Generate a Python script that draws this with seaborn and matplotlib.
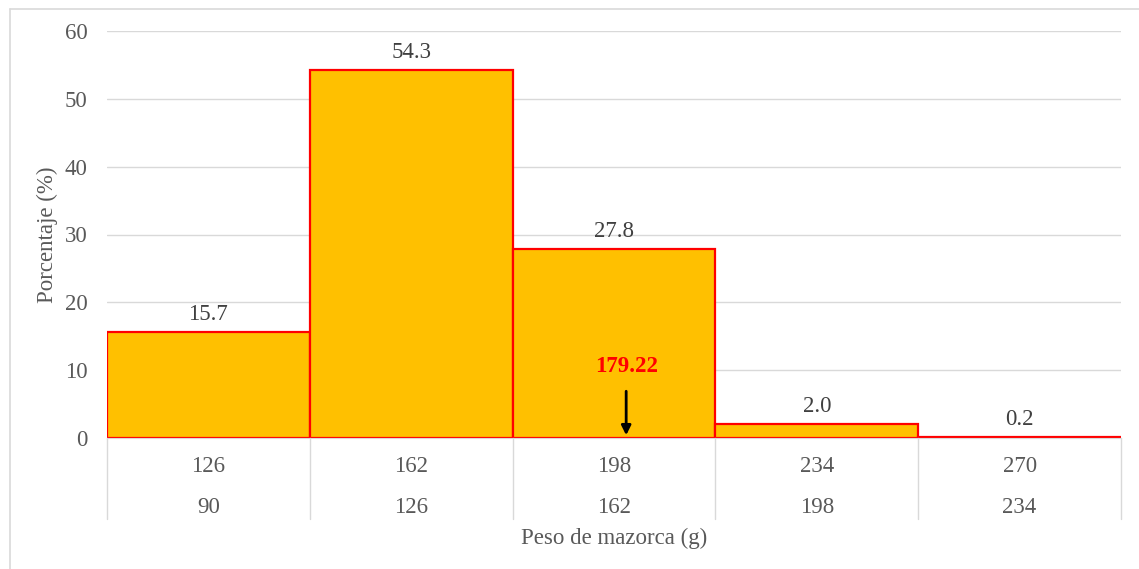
import matplotlib
matplotlib.use("Agg")
import matplotlib.pyplot as plt
import seaborn as sns
import pandas as pd
from matplotlib.lines import Line2D

# histogram data: weight classes (g) and percentage of ears
lower_bounds = [90, 126, 162, 198, 234]
upper_bounds = [126, 162, 198, 234, 270]
percentages = [15.7, 54.3, 27.8, 2.0, 0.2]
mean_weight = 179.22

df = pd.DataFrame({
    "clase": [str(u) for u in upper_bounds],
    "pct": percentages,
})

sns.set_style("white")
plt.rcParams["font.family"] = ["Liberation Serif", "DejaVu Serif"]
FS = 16.5

fig = plt.figure(figsize=(11.39, 5.69), dpi=100)
ax = fig.add_axes([107 / 1139, 1 - 438 / 569, (1121 - 107) / 1139, (438 - 31) / 569])

sns.barplot(data=df, x="clase", y="pct", ax=ax, width=1.0,
            color="#FFC000", edgecolor="#FF0000", linewidth=1.6,
            saturation=1)

ax.set_ylim(0, 60)
ax.set_xlim(-0.5, len(percentages) - 0.5)
ax.set_yticks(range(0, 61, 10))
ax.yaxis.grid(True, color="#d9d9d9", linewidth=1)
ax.set_axisbelow(True)
ax.tick_params(axis="y", length=0, labelsize=FS, labelcolor="#595959", pad=14)
ax.tick_params(axis="x", length=0, labelbottom=False)
for s in ["left", "top", "right"]:
    ax.spines[s].set_visible(False)
ax.spines["bottom"].set_color("#d9d9d9")
ax.set_xlabel("")
ax.set_ylabel("Porcentaje (%)", fontsize=FS, color="#595959")
ax.yaxis.set_label_coords(-0.048, 0.5)

# value labels
ax.bar_label(ax.containers[0], labels=[f"{v:.1f}" for v in percentages],
             padding=5, fontsize=FS, color="#404040")

# two-level category axis
tr = ax.get_xaxis_transform()
for i, (lo, hi) in enumerate(zip(lower_bounds, upper_bounds)):
    ax.text(i, -0.071, str(hi), transform=tr, ha="center", va="center",
            fontsize=FS, color="#595959")
    ax.text(i, -0.171, str(lo), transform=tr, ha="center", va="center",
            fontsize=FS, color="#595959")
for b in range(len(percentages) + 1):
    ax.add_line(Line2D([b - 0.5, b - 0.5], [0, -0.2], transform=tr,
                       color="#d9d9d9", linewidth=1, clip_on=False))
ax.text(0.5, -0.246, "Peso de mazorca (g)", transform=ax.transAxes,
        ha="center", va="center", fontsize=FS, color="#595959")

# mean marker
mean_x = 2.06
ax.annotate("", xy=(mean_x, 0), xytext=(mean_x, 7.3),
            arrowprops=dict(arrowstyle="-|>", color="black", lw=2,
                            mutation_scale=14))
ax.text(mean_x, 10.6, f"{mean_weight:.2f}", ha="center", va="center",
        fontsize=FS, fontweight="bold", color="#FF0000")

# chart frame
fig.add_artist(Line2D([10 / 1139, 1], [1 - 9 / 569, 1 - 9 / 569],
                      transform=fig.transFigure, color="#d9d9d9", linewidth=1.2))
fig.add_artist(Line2D([10 / 1139, 10 / 1139], [0, 1 - 9 / 569],
                      transform=fig.transFigure, color="#d9d9d9", linewidth=1.2))

fig.savefig("out.png", dpi=100)
